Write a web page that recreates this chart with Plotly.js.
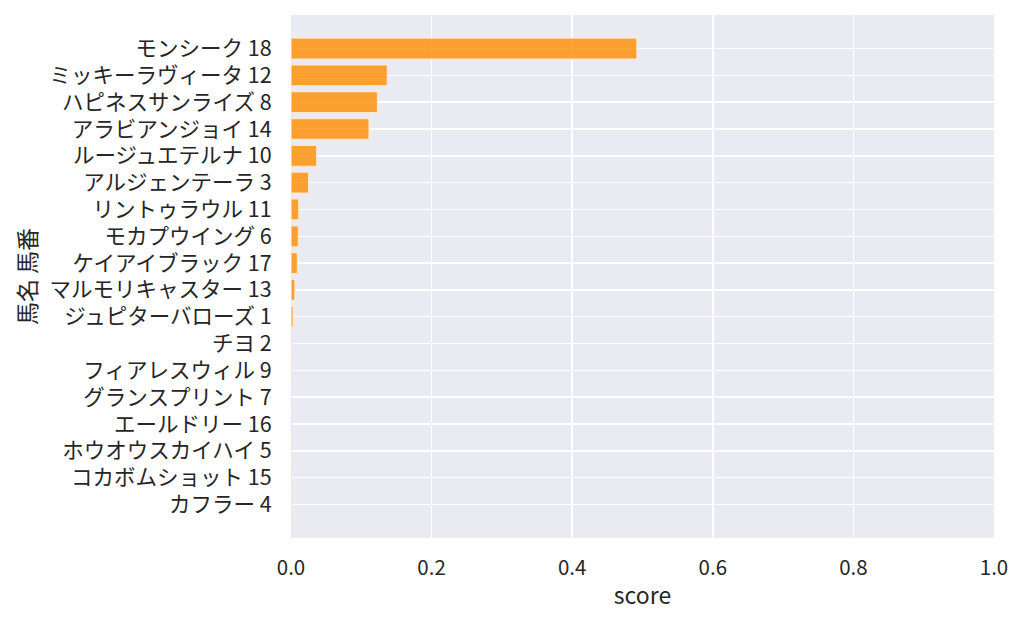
<!DOCTYPE html>
<html>
<head>
<meta charset="utf-8">
<script src="https://cdn.plot.ly/plotly-3.0.1.min.js"></script>
<style>
  html, body { margin: 0; padding: 0; background: #fff; }
  #chart { width: 1024px; height: 627px; }
</style>
</head>
<body>
<div id="chart"></div>
<script>
// horse names + numbers, top to bottom
const horses = [
  "モンシーク 18", "ミッキーラヴィータ 12", "ハピネスサンライズ 8", "アラビアンジョイ 14",
  "ルージュエテルナ 10", "アルジェンテーラ 3", "リントゥラウル 11", "モカプウイング 6",
  "ケイアイブラック 17", "マルモリキャスター 13", "ジュピターバローズ 1", "チヨ 2",
  "フィアレスウィル 9", "グランスプリント 7", "エールドリー 16", "ホウオウスカイハイ 5",
  "コカボムショット 15", "カフラー 4"
];
const scores = [
  0.492, 0.137, 0.123, 0.111,
  0.0365, 0.025, 0.011, 0.0105,
  0.009, 0.0055, 0.003, 0.0012,
  0.0008, 0.0006, 0.0002, 0.0001,
  0.0001, 0.00005
];
const xTicks = [0, 0.2, 0.4, 0.6, 0.8, 1.0];
const xTickText = ["0.0", "0.2", "0.4", "0.6", "0.8", "1.0"];

const FONT = "'Noto Sans CJK JP', 'Noto Sans', sans-serif";
const TEXT = "#262626";

const trace = {
  type: "bar",
  orientation: "h",
  x: scores,
  y: horses.map((_, i) => i),
  width: 0.78,
  marker: {
    color: "rgba(255,140,0,0.8)",
    line: { color: "rgba(255,235,210,0.9)", width: 1.2 }
  },
  hoverinfo: "x+y"
};

const layout = {
  width: 1024,
  height: 627,
  margin: { l: 291, r: 30, t: 15, b: 89 },
  paper_bgcolor: "#ffffff",
  plot_bgcolor: "#EAEAF2",
  font: { family: FONT, color: TEXT, size: 20 },
  showlegend: false,
  xaxis: {
    range: [0, 1],
    tickvals: xTicks,
    ticktext: xTickText,
    showgrid: true,
    gridcolor: "#ffffff",
    gridwidth: 1.5,
    zeroline: false,
    showline: false,
    ticks: "outside",
    ticklen: 11,
    tickcolor: "rgba(0,0,0,0)",
    tickfont: { size: 20.5, color: TEXT },
    title: { text: "score", font: { size: 23, color: TEXT }, standoff: 8 },
    fixedrange: true
  },
  yaxis: {
    range: [17 + 1.25, -1.25],
    tickvals: horses.map((_, i) => i),
    ticktext: horses,
    showgrid: true,
    gridcolor: "#ffffff",
    gridwidth: 1.5,
    zeroline: false,
    showline: false,
    ticks: "outside",
    ticklen: 14,
    tickcolor: "rgba(0,0,0,0)",
    tickfont: { size: 21.5, color: TEXT },
    title: { text: "馬名 馬番", font: { size: 23, color: TEXT }, standoff: 6 },
    automargin: false,
    fixedrange: true
  }
};

Plotly.newPlot("chart", [trace], layout, { displayModeBar: false, staticPlot: true });
</script>
</body>
</html>
